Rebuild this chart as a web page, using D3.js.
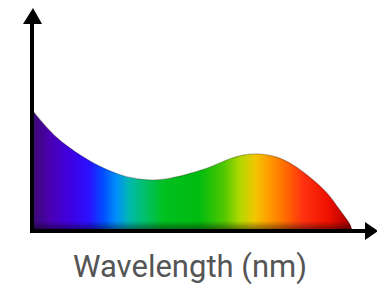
<!DOCTYPE html>
<html>
<head>
<meta charset="utf-8">
<script src="https://cdn.jsdelivr.net/npm/d3@7"></script>
<style>
  body { margin: 0; background: #fff; }
  svg { display: block; }
</style>
</head>
<body>
<svg id="chart" width="377" height="287"></svg>
<script>
// spectrum (relative intensity)
var wavelengths = [380, 395, 410, 430, 449, 468, 488, 507, 522, 540, 563, 586, 605, 624, 644, 663, 682, 701, 721, 736, 748, 750];
var intensity   = [0.55, 0.48, 0.42, 0.36, 0.314, 0.277, 0.248, 0.235, 0.232, 0.24, 0.262, 0.291, 0.323, 0.345, 0.35, 0.336, 0.3, 0.245, 0.173, 0.095, 0.027, 0];

// colour stops of the rainbow fill, by wavelength
var stopNm     = [380, 400, 423, 446, 463, 478, 492, 509, 532, 573, 602, 620, 637, 652, 671, 694, 723, 746];
var stopColors = ["#3a0a6e", "#4a00b0", "#4000e0", "#2a10ff", "#0050ff", "#0090f8", "#00b8b0", "#00c070", "#00c020", "#00bb10", "#50c800", "#b0d800", "#f0c800", "#ffa000", "#ff7000", "#ff3010", "#ee1000", "#b00000"];

var svg = d3.select("#chart");
var left = 32, bottom = 231;

var x = d3.scaleLinear().domain([380, 750]).range([left, 352]);
var y = d3.scaleLinear().domain([0, 1]).range([bottom, 11]);

var data = wavelengths.map(function(w, i) { return [w, intensity[i]]; });

var defs = svg.append("defs");
var grad = defs.append("linearGradient")
  .attr("id", "spectrum")
  .attr("gradientUnits", "userSpaceOnUse")
  .attr("x1", x(380)).attr("x2", x(750))
  .attr("y1", 0).attr("y2", 0);
grad.selectAll("stop")
  .data(stopNm)
  .enter()
  .append("stop")
  .attr("offset", function(d) { return (d - 380) / (750 - 380); })
  .attr("stop-color", function(d, i) { return stopColors[i]; });

var shade = defs.append("linearGradient")
  .attr("id", "shade")
  .attr("gradientUnits", "userSpaceOnUse")
  .attr("x1", 0).attr("x2", 0)
  .attr("y1", bottom - 10).attr("y2", bottom);
shade.append("stop").attr("offset", 0).attr("stop-color", "#000").attr("stop-opacity", 0);
shade.append("stop").attr("offset", 1).attr("stop-color", "#000").attr("stop-opacity", 0.55);

var area = d3.area()
  .x(function(d) { return x(d[0]); })
  .y0(y(0))
  .y1(function(d) { return y(d[1]); })
  .curve(d3.curveCatmullRom);

svg.append("path")
  .datum(data)
  .attr("d", area)
  .style("fill", "url(#spectrum)");

svg.append("path")
  .datum(data)
  .attr("d", area)
  .style("fill", "url(#shade)");

// soft dark edge along the curve
var line = d3.line()
  .x(function(d) { return x(d[0]); })
  .y(function(d) { return y(d[1]); })
  .curve(d3.curveCatmullRom);

svg.append("path")
  .datum(data)
  .attr("d", line)
  .style("fill", "none")
  .style("stroke", "#000")
  .style("stroke-opacity", 0.25)
  .style("stroke-width", 1.2);

// axes with arrow heads
svg.append("line")
  .attr("x1", left).attr("y1", bottom + 2)
  .attr("x2", left).attr("y2", 20)
  .style("stroke", "#000")
  .style("stroke-width", 4);
svg.append("path")
  .attr("d", "M" + (left + 1) + ",8 L" + (left - 9) + ",24 L" + (left + 10) + ",24 Z")
  .style("fill", "#000");

svg.append("line")
  .attr("x1", left - 2).attr("y1", bottom)
  .attr("x2", 368).attr("y2", bottom)
  .style("stroke", "#000")
  .style("stroke-width", 4);
svg.append("path")
  .attr("d", "M378," + bottom + " L365," + (bottom - 9) + " L365," + (bottom + 9) + " Z")
  .style("fill", "#000");

svg.append("text")
  .attr("x", 190)
  .attr("y", 277)
  .attr("text-anchor", "middle")
  .style("font-family", "Roboto")
  .style("font-size", 31)
  .style("fill", "#555")
  .text("Wavelength (nm)");
</script>
</body>
</html>
